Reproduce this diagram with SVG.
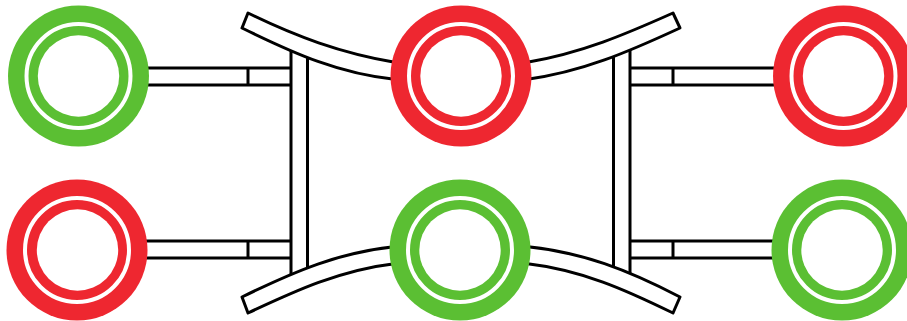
<svg xmlns="http://www.w3.org/2000/svg" width="907" height="321" viewBox="0 0 907 321">
<style>
.l{fill:none;stroke:#000;stroke-width:3;stroke-linejoin:round}
.b{fill:#fff;stroke:#000;stroke-width:3;stroke-linejoin:round}
.ring{fill:none;stroke:#fff;stroke-width:4}
.g{fill:#5bbf33}
.r{fill:#ee2730}
.in{fill:#fff}
</style>
<rect width="907" height="321" fill="#fff"/>
<g id="connectors">
<path class="l" d="M145 68H291M145 85H291M248 68V85"/>
<path class="l" d="M145 241H291M145 258H291M248 241V258"/>
<path class="l" d="M630 68H776M630 85H776M673 68V85"/>
<path class="l" d="M630 241H776M630 258H776M673 241V258"/>
<path class="l" d="M291 49V277M307.500 55V271"/>
<path class="l" d="M613.500 55V271M630 49V277"/>
<path class="b" d="M248 13L242 28C295 54 340 74 396 79.500V62.500C340 53 295 36 248 13Z"/>
<path class="b" d="M248 313L242 297C295 271 340 252 396 246.500V263.500C340 270 295 291 248 313Z"/>
<path class="b" d="M673 13L680 28C628 52 582 72 526 79.500V62.500C582 53 626 34 673 13Z"/>
<path class="b" d="M673 313L680 297C628 270 582 252 526 246.500V263.500C582 270 626 290 673 313Z"/>
</g>
<g id="node-top-left"><circle class="g" cx="78.500" cy="76" r="70.500"/><circle class="ring" cx="78.500" cy="76" r="52"/><circle class="in" cx="78.500" cy="76" r="40.700"/></g>
<g id="node-bottom-left"><circle class="r" cx="77" cy="250" r="70.500"/><circle class="ring" cx="77" cy="250" r="52"/><circle class="in" cx="77.500" cy="250" r="40.700"/></g>
<g id="node-top-middle"><circle class="r" cx="461" cy="76" r="70.500"/><circle class="ring" cx="461" cy="76" r="52"/><circle class="in" cx="461" cy="76" r="40.700"/></g>
<g id="node-bottom-middle"><circle class="g" cx="460" cy="250" r="70.500"/><circle class="ring" cx="460" cy="250" r="52"/><circle class="in" cx="460" cy="250" r="40.700"/></g>
<g id="node-top-right"><circle class="r" cx="843.500" cy="76" r="70.500"/><circle class="ring" cx="843.500" cy="76" r="52"/><circle class="in" cx="843.500" cy="76" r="40.700"/></g>
<g id="node-bottom-right"><circle class="g" cx="842" cy="250" r="70.500"/><circle class="ring" cx="842" cy="250" r="52"/><circle class="in" cx="842" cy="250" r="40.700"/></g>
</svg>
